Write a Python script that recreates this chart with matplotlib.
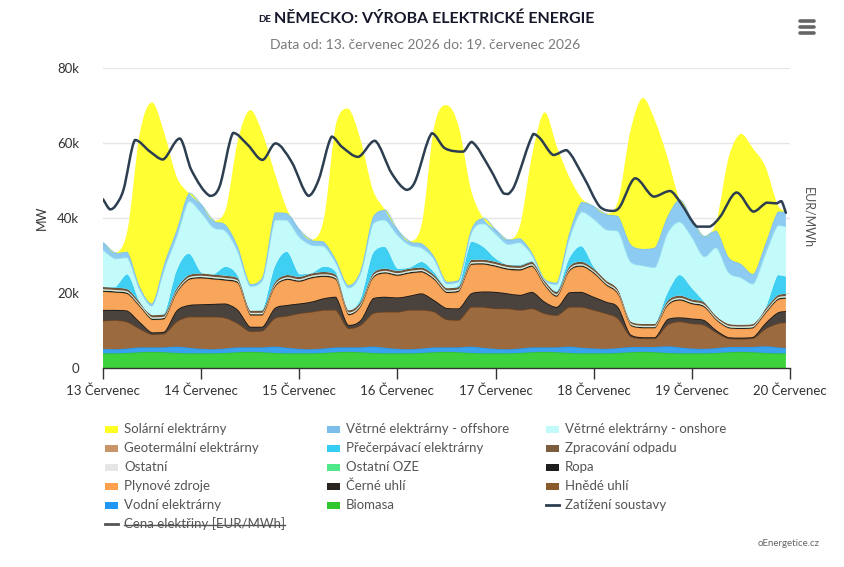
import numpy as np
import matplotlib
matplotlib.use("Agg")
import matplotlib.pyplot as plt
from matplotlib.patches import Rectangle, PathPatch
from matplotlib.path import Path
from matplotlib.lines import Line2D

FONT = ['Lato', 'DejaVu Sans']
plt.rcParams['font.family'] = FONT

# ---------------- data (values in thousands of MW) ----------------
hours = list(range(0, 166, 3)) + [167]          # hours since 13 July 00:00
day_ticks = [0, 24, 48, 72, 96, 120, 144, 168]
day_labels = ['13 Červenec', '14 Červenec', '15 Červenec', '16 Červenec',
              '17 Červenec', '18 Červenec', '19 Červenec', '20 Červenec']
y_ticks = [0, 20, 40, 60, 80]
y_tick_labels = ['0', '20k', '40k', '60k', '80k']

biomasa = [3.9, 3.9, 4.0, 4.2, 4.3, 4.2, 4.0, 3.9,
           3.9, 3.9, 4.0, 4.2, 4.3, 4.2, 4.0, 3.9,
           3.9, 3.9, 4.0, 4.2, 4.3, 4.2, 4.0, 3.9,
           3.9, 3.9, 4.0, 4.2, 4.3, 4.2, 4.0, 3.9,
           3.9, 3.9, 4.0, 4.2, 4.3, 4.2, 4.0, 3.9,
           3.9, 3.9, 4.0, 4.2, 4.3, 4.2, 4.0, 3.9,
           3.9, 3.9, 4.0, 4.2, 4.3, 4.2, 4.0, 3.9, 3.9]
vodni = [1.2, 1.1, 1.2, 1.3, 1.2, 1.3, 1.7, 1.5,
         1.2, 1.1, 1.2, 1.3, 1.2, 1.3, 1.7, 1.5,
         1.2, 1.1, 1.2, 1.3, 1.2, 1.3, 1.7, 1.5,
         1.2, 1.1, 1.2, 1.3, 1.2, 1.3, 1.7, 1.5,
         1.2, 1.1, 1.2, 1.3, 1.2, 1.3, 1.7, 1.5,
         1.3, 1.2, 1.3, 1.4, 1.3, 1.4, 1.8, 1.6,
         1.3, 1.2, 1.3, 1.4, 1.3, 1.4, 1.8, 1.6, 1.4]
hnede_uhli = [7.5, 7.8, 7.1, 5.0, 3.5, 3.7, 6.7, 8.3,
              8.6, 8.7, 8.2, 6.4, 4.3, 4.5, 7.6, 8.5,
              9.5, 10.0, 10.3, 10.0, 5.1, 6.0, 8.9, 9.6,
              9.9, 10.5, 10.3, 9.5, 7.5, 7.3, 10.6, 10.9,
              10.8, 10.9, 10.3, 10.4, 9.1, 8.6, 10.6, 10.9,
              10.3, 9.5, 7.9, 2.9, 2.3, 2.3, 5.7, 6.9,
              6.7, 6.4, 4.2, 2.3, 2.2, 2.4, 4.7, 6.4, 6.9]
cerne_uhli = [2.9, 2.7, 3.0, 1.8, 0.5, 0.5, 2.9, 3.1,
              3.3, 3.4, 3.8, 3.6, 1.2, 1.0, 2.7, 2.9,
              2.6, 2.7, 3.1, 3.5, 0.9, 1.3, 4.0, 4.0,
              3.8, 3.8, 4.4, 3.1, 3.0, 3.1, 3.6, 4.1,
              4.4, 4.0, 4.0, 4.4, 3.1, 2.2, 3.9, 4.0,
              3.5, 3.1, 3.0, 0.5, 0.3, 0.3, 1.5, 1.1,
              1.3, 1.3, 0.6, 0.3, 0.3, 0.3, 1.5, 2.9, 3.0]
plynove_zdroje = [4.8, 4.6, 4.4, 4.0, 3.3, 3.3, 4.6, 6.7,
                  6.9, 6.5, 6.1, 7.1, 3.0, 3.0, 5.5, 6.7,
                  5.8, 6.2, 5.7, 4.5, 2.6, 3.5, 5.3, 6.2,
                  5.8, 5.9, 5.6, 5.4, 4.0, 4.4, 7.6, 7.2,
                  6.7, 6.3, 6.5, 6.7, 4.3, 2.7, 5.5, 6.7,
                  6.2, 4.4, 3.3, 2.3, 2.4, 2.4, 3.5, 4.5,
                  3.8, 3.4, 2.6, 2.4, 2.3, 2.3, 2.5, 3.3, 3.3]
ropa = [0.35, 0.35, 0.35, 0.35, 0.35, 0.35, 0.35, 0.35,
        0.35, 0.35, 0.35, 0.35, 0.35, 0.35, 0.35, 0.35,
        0.35, 0.35, 0.35, 0.35, 0.35, 0.35, 0.35, 0.35,
        0.35, 0.35, 0.35, 0.35, 0.35, 0.35, 0.35, 0.35,
        0.35, 0.35, 0.35, 0.35, 0.35, 0.35, 0.35, 0.35,
        0.35, 0.35, 0.35, 0.3, 0.3, 0.3, 0.35, 0.35,
        0.35, 0.35, 0.3, 0.3, 0.3, 0.3, 0.35, 0.35, 0.35]
ostatni_oze = [0.15, 0.15, 0.15, 0.15, 0.15, 0.15, 0.15, 0.15,
               0.15, 0.15, 0.15, 0.15, 0.15, 0.15, 0.15, 0.15,
               0.15, 0.15, 0.15, 0.15, 0.15, 0.15, 0.15, 0.15,
               0.15, 0.15, 0.15, 0.15, 0.15, 0.15, 0.15, 0.15,
               0.15, 0.15, 0.15, 0.15, 0.15, 0.15, 0.15, 0.15,
               0.15, 0.15, 0.15, 0.15, 0.15, 0.15, 0.15, 0.15,
               0.15, 0.15, 0.15, 0.15, 0.15, 0.15, 0.15, 0.15, 0.15]
ostatni = [0.2, 0.2, 0.2, 0.2, 0.2, 0.2, 0.2, 0.2,
           0.2, 0.2, 0.2, 0.2, 0.2, 0.2, 0.2, 0.2,
           0.2, 0.2, 0.2, 0.2, 0.2, 0.2, 0.2, 0.2,
           0.2, 0.2, 0.2, 0.2, 0.2, 0.2, 0.2, 0.2,
           0.2, 0.2, 0.2, 0.2, 0.2, 0.2, 0.2, 0.2,
           0.2, 0.2, 0.2, 0.2, 0.2, 0.2, 0.2, 0.2,
           0.2, 0.2, 0.2, 0.2, 0.2, 0.2, 0.2, 0.2, 0.2]
zpracovani_odpadu = [0.6, 0.6, 0.6, 0.6, 0.6, 0.6, 0.6, 0.6,
                     0.6, 0.6, 0.6, 0.6, 0.6, 0.6, 0.6, 0.6,
                     0.6, 0.6, 0.6, 0.6, 0.6, 0.6, 0.6, 0.6,
                     0.6, 0.6, 0.6, 0.6, 0.6, 0.6, 0.6, 0.6,
                     0.6, 0.6, 0.6, 0.6, 0.6, 0.6, 0.6, 0.6,
                     0.6, 0.6, 0.6, 0.5, 0.5, 0.5, 0.6, 0.6,
                     0.6, 0.6, 0.5, 0.5, 0.5, 0.5, 0.6, 0.6, 0.6]
precerpavaci = [0.0, 0.2, 4.0, 0.0, 0.0, 0.2, 4.8, 5.7,
                0.3, 0.1, 2.4, 0.6, 0.0, 0.2, 4.2, 6.2,
                0.7, 0.1, 1.4, 0.7, 0.0, 0.9, 5.4, 5.8,
                0.6, 0.3, 1.5, 0.7, 0.0, 0.4, 4.9, 3.4,
                0.9, 0.0, 0.2, 0.2, 0.0, 0.2, 2.2, 4.2,
                0.5, 0.0, 0.0, 0.0, 0.0, 0.0, 2.1, 5.5,
                3.0, 0.2, 0.0, 0.0, 0.0, 0.0, 0.2, 5.4, 4.6]
geotermalni = [0.0, 0.0, 0.0, 0.0, 0.0, 0.0, 0.0, 0.0,
               0.0, 0.0, 0.0, 0.0, 0.0, 0.0, 0.0, 0.0,
               0.0, 0.0, 0.0, 0.0, 0.0, 0.0, 0.0, 0.0,
               0.0, 0.0, 0.0, 0.0, 0.0, 0.0, 0.0, 0.0,
               0.0, 0.0, 0.0, 0.0, 0.0, 0.0, 0.0, 0.0,
               0.0, 0.0, 0.0, 0.0, 0.0, 0.0, 0.0, 0.0,
               0.0, 0.0, 0.0, 0.0, 0.0, 0.0, 0.0, 0.0, 0.0]
vitr_onshore = [9.9, 7.6, 4.5, 3.4, 2.5, 12.0, 9.0, 14.0,
                16.0, 12.5, 9.5, 6.5, 6.5, 8.0, 12.5, 8.5,
                10.0, 7.5, 5.5, 2.5, 6.0, 6.8, 7.9, 7.2,
                9.0, 6.0, 3.7, 3.5, 1.2, 1.0, 2.2, 6.2,
                6.6, 5.5, 6.0, 1.5, 0.3, 1.8, 5.3, 9.2,
                12.8, 13.6, 15.7, 15.9, 15.6, 15.1, 16.0, 14.2,
                13.7, 12.0, 18.3, 13.8, 12.6, 10.7, 14.6, 13.3, 13.3]
vitr_offshore = [1.9, 1.4, 1.5, 0.7, 0.6, 1.4, 1.8, 2.1,
                 2.0, 1.8, 1.7, 1.3, 0.6, 0.8, 2.0, 1.8,
                 1.8, 1.3, 1.2, 0.8, 0.7, 0.8, 1.8, 2.6,
                 1.3, 0.9, 1.2, 0.7, 0.5, 0.5, 0.9, 1.4,
                 1.0, 1.1, 1.1, 0.6, 0.2, 0.5, 1.4, 2.6,
                 3.2, 4.0, 4.0, 4.7, 4.4, 5.3, 4.4, 5.8,
                 4.5, 5.3, 4.5, 4.0, 3.6, 2.6, 2.6, 3.6, 4.0]
solarni = [0.0, 0.0, 5.8, 40.9, 53.6, 34.7, 14.2, 0.0,
           0.0, 0.0, 4.0, 28.5, 46.4, 38.3, 10.5, 1.0,
           0.0, 0.0, 6.0, 36.4, 47.1, 34.7, 7.2, 0.0,
           0.0, 0.0, 5.5, 34.7, 47.1, 40.9, 10.7, 0.0,
           0.0, 0.0, 3.5, 26.6, 44.4, 36.2, 15.1, 1.0,
           0.0, 0.0, 4.3, 30.3, 40.3, 33.8, 16.0, 0.0,
           0.0, 0.0, 2.5, 26.6, 34.7, 33.4, 20.5, 1.8, 0.0]

load_hours = [0, 1.7, 3, 5, 7.8, 11.5, 14.7, 18.8, 21.6,
              26.1, 28.5, 31.8, 35.4, 39.0, 42.2, 46.1,
              50.2, 52.7, 55.9, 58.4, 62.4, 66.5, 70.6,
              74.2, 76.3, 80.4, 83.6, 88.1, 90.2, 94.6,
              97.9, 99.1, 100.7, 105.2, 106.9, 110.1, 113.4, 117.5,
              121.5, 124.8, 126.4, 130.1, 134.6, 138.7, 141.1,
              145.2, 148.4, 150.9, 154.9, 159.0, 162.3, 164.7, 165.9, 167.0]
zatizeni = [45.0, 42.3, 43.2, 47.5, 60.8, 57.7, 55.6, 61.2, 52.8,
            45.9, 48.4, 62.7, 59.5, 55.5, 59.9, 55.0,
            45.9, 50.1, 61.7, 59.0, 56.3, 60.6, 51.9,
            47.5, 49.7, 62.6, 58.6, 57.7, 60.3, 53.2,
            46.6, 46.4, 48.8, 62.4, 61.2, 56.8, 58.1, 51.0,
            43.0, 41.9, 43.0, 50.6, 45.7, 47.2, 44.3,
            37.7, 37.7, 40.3, 46.8, 41.7, 44.1, 43.9, 44.5, 41.4]


# ---------------- spline drawing helpers (Bezier curves through data) ----------------
def spline_segments(x, y):
    """Cubic Bezier control points through the data points (Highcharts-like spline)."""
    x = np.asarray(x, float)
    y = np.asarray(y, float)
    n = len(x)
    m = np.zeros(n)
    for i in range(n):
        if i == 0:
            m[i] = (y[1] - y[0]) / (x[1] - x[0])
        elif i == n - 1:
            m[i] = (y[-1] - y[-2]) / (x[-1] - x[-2])
        else:
            m[i] = (y[i + 1] - y[i - 1]) / (x[i + 1] - x[i - 1])
    segs = []
    for i in range(n - 1):
        dx = x[i + 1] - x[i]
        lo, hi = min(y[i], y[i + 1]), max(y[i], y[i + 1])
        c1 = (x[i] + dx / 3, float(np.clip(y[i] + m[i] * dx / 3, lo, hi)))
        c2 = (x[i + 1] - dx / 3, float(np.clip(y[i + 1] - m[i + 1] * dx / 3, lo, hi)))
        segs.append(((x[i], y[i]), c1, c2, (x[i + 1], y[i + 1])))
    return segs


def curve_path(x, y):
    segs = spline_segments(x, y)
    verts = [segs[0][0]]
    codes = [Path.MOVETO]
    for p0, c1, c2, p1 in segs:
        verts += [c1, c2, p1]
        codes += [Path.CURVE4] * 3
    return Path(verts, codes)


def band_path(x, ylow, yhigh):
    top = spline_segments(x, yhigh)
    bot = spline_segments(x, ylow)
    verts = [top[0][0]]
    codes = [Path.MOVETO]
    for p0, c1, c2, p1 in top:
        verts += [c1, c2, p1]
        codes += [Path.CURVE4] * 3
    verts.append(bot[-1][3])
    codes.append(Path.LINETO)
    for p0, c1, c2, p1 in reversed(bot):
        verts += [c2, c1, p0]
        codes += [Path.CURVE4] * 3
    verts.append(top[0][0])
    codes.append(Path.CLOSEPOLY)
    return Path(verts, codes)


# ---------------- figure ----------------
W, H = 845, 567
fig = plt.figure(figsize=(W / 100, H / 100), dpi=100)


def fx(px):
    return px / W


def fy(py):
    return 1 - py / H


ax = fig.add_axes([fx(103), fy(368), fx(790) - fx(103), fy(68) - fy(368)])
ax.set_xlim(0, 168)
ax.set_ylim(0, 80)

layers = [
    (biomasa, '#3dd33d', '#2cc42c'),
    (vodni, '#38a2ee', '#2a96ea'),
    (hnede_uhli, '#9b6a3f', '#6e4421'),
    (cerne_uhli, '#4a423c', '#111111'),
    (plynove_zdroje, '#f8a65c', '#f59a4a'),
    (ropa, '#222222', None),
    (ostatni_oze, '#9de6b5', None),
    (ostatni, '#e2e2e2', None),
    (zpracovani_odpadu, '#6f553a', None),
    (precerpavaci, '#3fcff3', None),
    (geotermalni, '#c8956a', None),
    (vitr_onshore, '#c3fbfb', '#9fe6f0'),
    (vitr_offshore, '#8ecbf2', '#7fc0ec'),
    (solarni, '#ffff33', None),
]
base = np.zeros(len(hours))
z = 2.0
for vals, fc, lc in layers:
    top = base + np.array(vals)
    ax.add_patch(PathPatch(band_path(hours, base, top), facecolor=fc,
                           edgecolor='none', linewidth=0, zorder=z))
    if lc is not None:
        ax.add_patch(PathPatch(curve_path(hours, top), facecolor='none',
                               edgecolor=lc, lw=1.1, zorder=z + 0.005))
    base = top
    z += 0.01

ax.add_patch(PathPatch(curve_path(load_hours, zatizeni), facecolor='none',
                       edgecolor='#2c3e50', lw=1.8, zorder=10,
                       joinstyle='round', capstyle='round'))

# axes styling
for s in ['left', 'right', 'top']:
    ax.spines[s].set_visible(False)
ax.spines['bottom'].set_color('#333333')
ax.spines['bottom'].set_linewidth(1.0)
ax.spines['bottom'].set_zorder(12)
ax.set_yticks(y_ticks)
ax.set_yticklabels(y_tick_labels)
ax.yaxis.grid(True, color='#e6e6e6', lw=1.0)
ax.set_axisbelow(True)
ax.tick_params(axis='y', length=0, pad=17, labelsize=9.5, labelcolor='#333333')
ax.set_xticks(day_ticks)
ax.set_xticklabels(day_labels)
ax.tick_params(axis='x', length=8, width=1, color='#333333', pad=4,
               labelsize=9.5, labelcolor='#333333')

fig.text(fx(42), fy(218), 'MW', rotation=90, ha='center', va='center',
         fontsize=9, color='#333333')
fig.text(fx(808), fy(218), 'EUR/MWh', rotation=270, ha='center', va='center',
         fontsize=9, color='#555555')

renderer = fig.canvas.get_renderer()


def fit(t, target):
    w = t.get_window_extent(renderer).width
    t.set_fontsize(t.get_fontsize() * target / w)


# title
title = fig.text(fx(434), fy(19), 'NĚMECKO: VÝROBA ELEKTRICKÉ ENERGIE',
                 ha='center', va='center', fontsize=11, fontweight='bold',
                 color='#16182b')
fit(title, 321)
tb = title.get_window_extent(renderer)
fig.text((tb.x0 - 3) / W, fy(20), 'DE', ha='right', va='center',
         fontsize=7, fontweight='bold', color='#16182b')

sub = fig.text(fx(425.5), fy(45), 'Data od: 13. červenec 2026 do: 19. červenec 2026',
               ha='center', va='center', fontsize=9, color='#7a7a7a')
fit(sub, 311)

# hamburger menu
for yy in (21, 27, 33):
    fig.add_artist(Line2D([fx(800), fx(814)], [fy(yy), fy(yy)], color='#666666',
                          lw=2.6, solid_capstyle='round'))

# legend
cols_x = [105, 327, 546]
rows_y = [429, 448, 467, 486, 505, 524]
legend_items = [
    ('Solární elektrárny', '#ffff22', 'area'),
    ('Větrné elektrárny - offshore', '#7dbdec', 'area'),
    ('Větrné elektrárny - onshore', '#c2fafa', 'area'),
    ('Geotermální elektrárny', '#c8956a', 'area'),
    ('Přečerpávací elektrárny', '#35cdf3', 'area'),
    ('Zpracování odpadu', '#7b5c3c', 'area'),
    ('Ostatní', '#e6e6e6', 'area'),
    ('Ostatní OZE', '#4ee889', 'area'),
    ('Ropa', '#1e1e1e', 'area'),
    ('Plynové zdroje', '#ffa04c', 'area'),
    ('Černé uhlí', '#2a2420', 'area'),
    ('Hnědé uhlí', '#8b5a2b', 'area'),
    ('Vodní elektrárny', '#2196f3', 'area'),
    ('Biomasa', '#2ec82e', 'area'),
    ('Zatížení soustavy', '#2c3e50', 'line'),
    ('Cena elektřiny [EUR/MWh]', '#555555', 'hidden'),
]
for i, (name, col, kind) in enumerate(legend_items):
    cx = cols_x[i % 3]
    cy = rows_y[i // 3]
    if kind == 'area':
        fig.add_artist(Rectangle((fx(cx), fy(cy + 3.5)), 13 / W, 7 / H,
                                 facecolor=col, edgecolor='none'))
    else:
        fig.add_artist(Line2D([fx(cx), fx(cx + 13)], [fy(cy), fy(cy)],
                              color=col, lw=2))
    t = fig.text(fx(cx + 19), fy(cy), name, ha='left', va='center',
                 fontsize=9.5, color='#555555')
    if kind == 'hidden':
        b = t.get_window_extent(renderer)
        fig.add_artist(Line2D([b.x0 / W, b.x1 / W], [fy(cy + 0.5), fy(cy + 0.5)],
                              color='#555555', lw=1.0))

fig.text(fx(820), fy(544), 'oEnergetice.cz', ha='right', va='center',
         fontsize=7, color='#666666')

fig.savefig('out.png', dpi=100)
